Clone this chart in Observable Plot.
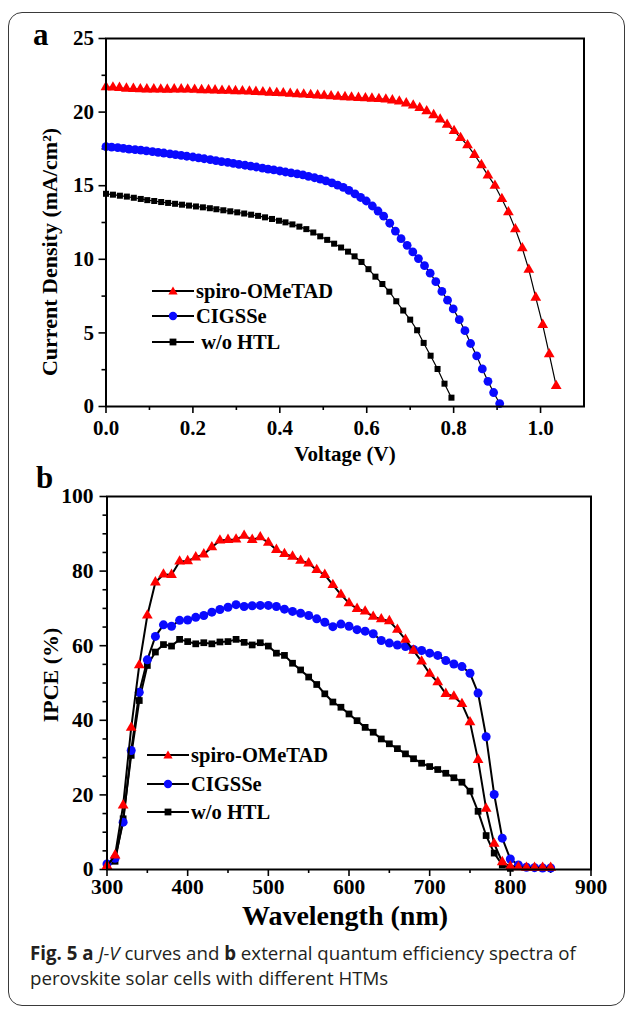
<!DOCTYPE html>
<html><head><meta charset="utf-8">
<script src="https://cdn.jsdelivr.net/npm/d3@7"></script>
<script src="https://cdn.jsdelivr.net/npm/@observablehq/plot@0.6"></script>
<style>
html,body{margin:0;padding:0;background:#fff;}
#fig{position:relative;width:630px;height:1012px;overflow:hidden;background:#fff;}
#border{position:absolute;left:8px;top:12px;width:617px;height:994px;border:1.5px solid #3a3a3a;border-radius:14px;box-sizing:border-box;}
.panel{position:absolute;left:0;}
.plab{position:absolute;font-family:"Liberation Serif",serif;font-weight:bold;font-size:31px;line-height:1;}
.ylab{position:absolute;font-family:"Liberation Serif",serif;font-weight:bold;font-size:22px;line-height:1;white-space:nowrap;transform:translate(-50%,-50%) rotate(-90deg);}
.leg{position:absolute;display:flex;align-items:center;height:24px;font-family:"Liberation Serif",serif;font-weight:bold;font-size:20.5px;color:#000;white-space:pre;}
.leg svg{display:block;margin-right:2px;}
#caption{position:absolute;left:30px;top:940px;width:595px;font-family:"Open Sans","Noto Sans",sans-serif;font-size:18.7px;line-height:25px;color:#231f20;white-space:nowrap;}
</style></head>
<body><div id="fig"><div id="border"></div></div>
<script>
// ---------- Panel a : J-V data ----------
const spiroV = [0.000,0.016,0.031,0.047,0.063,0.079,0.094,0.110,0.126,0.141,
 0.157,0.173,0.188,0.204,0.220,0.236,0.251,0.267,0.283,0.298,
 0.314,0.330,0.345,0.361,0.377,0.393,0.408,0.424,0.440,0.455,
 0.471,0.487,0.502,0.518,0.534,0.550,0.565,0.581,0.597,0.612,
 0.628,0.644,0.659,0.675,0.691,0.707,0.722,0.738,0.754,0.769,
 0.785,0.801,0.816,0.832,0.848,0.864,0.879,0.895,0.911,0.926,
 0.942,0.958,0.973,0.989,1.005,1.020,1.036];
const spiroJ = [21.70,21.68,21.65,21.60,21.58,21.56,21.55,21.55,21.54,21.53,
 21.55,21.55,21.54,21.52,21.50,21.50,21.48,21.46,21.45,21.43,
 21.42,21.40,21.38,21.35,21.33,21.30,21.28,21.25,21.22,21.20,
 21.17,21.14,21.11,21.08,21.05,21.02,21.00,20.97,20.94,20.92,
 20.90,20.86,20.80,20.72,20.60,20.45,20.28,20.06,19.80,19.50,
 19.15,18.72,18.25,17.75,17.10,16.40,15.70,15.00,14.10,13.20,
 12.05,10.75,9.30,7.40,5.55,3.55,1.40];
const cigsV = [0.000,0.013,0.027,0.040,0.053,0.067,0.080,0.093,0.107,0.120,
 0.133,0.147,0.160,0.173,0.186,0.200,0.213,0.226,0.240,0.253,
 0.266,0.280,0.293,0.306,0.320,0.333,0.346,0.360,0.373,0.386,
 0.400,0.413,0.426,0.440,0.453,0.466,0.480,0.493,0.506,0.520,
 0.533,0.546,0.559,0.573,0.586,0.599,0.613,0.626,0.639,0.653,
 0.666,0.679,0.693,0.706,0.719,0.733,0.746,0.759,0.773,0.786,
 0.799,0.813,0.826,0.839,0.853,0.866,0.879,0.892,0.906];
const cigsJ = [17.66,17.62,17.58,17.53,17.49,17.45,17.41,17.37,17.32,17.27,
 17.22,17.16,17.11,17.06,17.00,16.95,16.89,16.83,16.77,16.71,
 16.64,16.58,16.51,16.45,16.39,16.33,16.27,16.20,16.13,16.07,
 16.00,15.93,15.87,15.80,15.73,15.64,15.54,15.45,15.33,15.19,
 15.04,14.89,14.68,14.44,14.20,13.96,13.62,13.28,12.93,12.45,
 11.92,11.40,10.95,10.50,10.05,9.57,9.06,8.48,7.82,7.22,
 6.63,5.90,5.15,4.28,3.44,2.55,1.71,0.95,0.20];
const htlV = [0.000,0.016,0.032,0.048,0.064,0.080,0.095,0.111,0.127,0.143,
 0.159,0.175,0.191,0.207,0.223,0.239,0.254,0.270,0.286,0.302,
 0.318,0.334,0.350,0.366,0.382,0.398,0.413,0.429,0.445,0.461,
 0.477,0.493,0.509,0.525,0.541,0.557,0.572,0.588,0.604,0.620,
 0.636,0.652,0.668,0.684,0.700,0.716,0.731,0.747,0.763,0.779,
 0.795];
const htlJ = [14.45,14.39,14.32,14.26,14.18,14.10,14.02,13.96,13.89,13.83,
 13.77,13.71,13.65,13.59,13.53,13.47,13.40,13.33,13.26,13.19,
 13.11,13.03,12.95,12.85,12.74,12.62,12.51,12.37,12.22,12.05,
 11.82,11.56,11.32,11.06,10.80,10.52,10.20,9.82,9.33,8.82,
 8.32,7.80,7.15,6.52,5.90,5.18,4.32,3.45,2.55,1.55,
 0.60];

// ---------- Panel b : IPCE data ----------
const wavelengths = [300,310,320,330,340,350,360,370,380,390,
 400,410,420,430,440,450,460,470,480,490,
 500,510,520,530,540,550,560,570,580,590,
 600,610,620,630,640,650,660,670,680,690,
 700,710,720,730,740,750,760,770,780,790,
 800,810,820,830,840,850];
const spiroIPCE = [1.0,3.8,17.2,38.0,54.8,68.1,77.0,79.1,79.0,82.6,
 82.7,83.7,84.5,86.4,88.2,88.4,88.5,89.5,88.4,89.1,
 87.6,85.7,84.6,83.9,82.8,82.1,80.3,79.0,76.3,73.7,
 71.4,69.9,69.2,67.8,67.1,66.6,64.3,61.6,58.7,55.8,
 52.5,50.2,47.1,46.4,44.4,39.5,29.4,16.3,6.9,2.0,
 0.8,0.6,0.5,0.5,0.5,0.5];
const cigsIPCE = [1.5,3.0,12.7,31.9,47.5,56.2,62.5,65.6,65.2,66.8,
 66.9,67.6,68.1,69.0,69.7,70.3,71.0,70.5,70.7,70.8,
 70.8,70.5,69.8,69.2,68.7,68.1,67.2,66.3,65.1,65.8,
 65.2,64.3,63.9,63.2,61.4,60.7,60.2,59.8,59.0,58.7,
 58.0,57.4,56.0,55.1,54.4,52.6,47.3,35.6,20.1,8.4,
 2.8,1.2,0.6,0.5,0.4,0.4];
const htlIPCE = [0.8,2.2,13.6,30.6,45.3,54.7,58.3,60.3,59.9,61.7,
 61.1,60.5,60.8,60.5,61.0,61.1,61.7,60.9,60.2,60.8,
 59.9,58.0,57.4,55.3,53.5,51.6,49.6,47.1,44.9,43.5,
 41.7,39.9,38.1,36.8,35.0,33.7,32.4,31.0,29.7,28.5,
 27.6,26.8,25.8,24.6,23.4,21.0,15.6,9.1,4.4,1.2,
 0.3];

const seriesNames = ["spiro-OMeTAD", "CIGSSe", "w/o HTL"];
const seriesColors = ["#ff0000", "#0a0aff", "#000000"];
const seriesSymbols = ["triangle", "circle", "square"];

// ticks
const jvXTicks = [0, 0.2, 0.4, 0.6, 0.8, 1.0];
const jvXMinor = [0.1, 0.3, 0.5, 0.7, 0.9];
const jvYTicks = [0, 5, 10, 15, 20, 25];
const jvYMinor = [2.5, 7.5, 12.5, 17.5, 22.5];
const eqeXTicks = [300, 400, 500, 600, 700, 800, 900];
const eqeXMinor = [350, 450, 550, 650, 750, 850];
const eqeYTicks = [0, 20, 40, 60, 80, 100];
const eqeYMinor = [5, 10, 15, 25, 30, 35, 45, 50, 55, 65, 70, 75, 85, 90, 95];

const zip = (xs, ys) => xs.map((x, i) => ({x, y: ys[i]}));
const jvSeries = [zip(spiroV, spiroJ), zip(cigsV, cigsJ), zip(htlV, htlJ)];
const eqeSeries = [zip(wavelengths, spiroIPCE), zip(wavelengths, cigsIPCE), zip(wavelengths.slice(0, htlIPCE.length), htlIPCE)];

const serif = '"Liberation Serif", "Times New Roman", serif';

function seriesMarks(series, rs, lineW) {
  const marks = [];
  for (const i of [2, 1, 0]) {
    marks.push(Plot.line(series[i], {x: "x", y: "y", stroke: "#000", strokeWidth: lineW}));
    marks.push(Plot.dot(series[i], {x: "x", y: "y", symbol: seriesSymbols[i], r: rs[i], fill: seriesColors[i], stroke: "none"}));
  }
  return marks;
}

const fig = document.getElementById("fig");

const plotA = Plot.plot({
  width: 630, height: 470,
  marginLeft: 105.5, marginRight: 46.5, marginTop: 38, marginBottom: 64,
  style: {fontFamily: serif, fontWeight: "bold", fontSize: "21px", color: "#000", background: "transparent", overflow: "visible"},
  x: {domain: [0, 1.1]},
  y: {domain: [0, 25]},
  marks: [
    Plot.axisX({ticks: jvXTicks, tickFormat: d3.format(".1f"), tickSize: 7, tickPadding: 7, strokeWidth: 1.6, label: null}),
    Plot.axisX({ticks: jvXMinor, tickSize: 4, strokeWidth: 1.6, text: null, label: null}),
    Plot.axisY({ticks: jvYTicks, tickSize: 7, tickPadding: 5, strokeWidth: 1.6, label: null}),
    Plot.axisY({ticks: jvYMinor, tickSize: 4, strokeWidth: 1.6, text: null, label: null}),
    ...seriesMarks(jvSeries, [4.0, 4.4, 3.4], 1.2),
    Plot.frame({stroke: "#000", strokeWidth: 2}),
    Plot.text(["Voltage (V)"], {text: d => d, frameAnchor: "bottom", dy: 54, fontSize: 21})
  ]
});
plotA.classList.add("panel");
plotA.style.top = "0px";
fig.appendChild(plotA);

const plotB = Plot.plot({
  width: 630, height: 470,
  marginLeft: 106.5, marginRight: 39.5, marginTop: 26, marginBottom: 71,
  style: {fontFamily: serif, fontWeight: "bold", fontSize: "21.5px", color: "#000", background: "transparent", overflow: "visible"},
  x: {domain: [300, 900]},
  y: {domain: [0, 100]},
  marks: [
    Plot.axisX({ticks: eqeXTicks, tickSize: 7, tickPadding: 2, strokeWidth: 1.6, label: null}),
    Plot.axisX({ticks: eqeXMinor, tickSize: 4, strokeWidth: 1.6, text: null, label: null}),
    Plot.axisY({ticks: eqeYTicks, tickSize: 7, tickPadding: 6.5, strokeWidth: 1.6, label: null}),
    Plot.axisY({ticks: eqeYMinor, tickSize: 4, strokeWidth: 1.6, text: null, label: null}),
    ...seriesMarks(eqeSeries, [4.0, 4.5, 3.8], 2),
    Plot.frame({stroke: "#000", strokeWidth: 2}),
    Plot.text(["Wavelength (nm)"], {text: d => d, frameAnchor: "bottom", dy: 55, fontSize: 28, dx: -4})
  ]
});
plotB.classList.add("panel");
plotB.style.top = "470px";
fig.appendChild(plotB);

// rotated y-axis titles
for (const [t, cx, cy] of [["Current Density (mA/cm²)", 50, 252], ["IPCE (%)", 51, 675]]) {
  const d = document.createElement("div");
  d.className = "ylab"; d.textContent = t;
  d.style.left = cx + "px"; d.style.top = cy + "px";
  fig.appendChild(d);
}

// panel letters
for (const [t, l, tp] of [["a", 33, 19], ["b", 36, 462]]) {
  const d = document.createElement("div");
  d.className = "plab"; d.textContent = t;
  d.style.left = l + "px"; d.style.top = tp + "px";
  fig.appendChild(d);
}

// legends
function swatch(i) {
  const c = seriesColors[i];
  let m;
  if (seriesSymbols[i] === "triangle") m = `<path d="M21,3.5 L25.6,11.5 L16.4,11.5 Z" fill="${c}"/>`;
  else if (seriesSymbols[i] === "circle") m = `<circle cx="21" cy="8" r="4.2" fill="${c}"/>`;
  else m = `<rect x="17.6" y="4.6" width="6.8" height="6.8" fill="${c}"/>`;
  return `<svg width="42" height="16" viewBox="0 0 42 16"><line x1="0" y1="8" x2="42" y2="8" stroke="#000" stroke-width="2"/>${m}</svg>`;
}
function legend(left, centers, labels) {
  centers.forEach((cy, i) => {
    const d = document.createElement("div");
    d.className = "leg";
    d.style.left = left + "px"; d.style.top = (cy - 12) + "px";
    d.innerHTML = swatch(i) + `<span>${labels[i]}</span>`;
    fig.appendChild(d);
  });
}
legend(152, [291, 316, 342], [seriesNames[0], seriesNames[1], " " + seriesNames[2]]);
legend(147, [755, 784, 812], seriesNames);

// caption
const cap = document.createElement("div");
cap.id = "caption";
cap.innerHTML = '<b>Fig. 5</b> <b>a</b> <i>J-V</i> curves and <b>b</b> external quantum efficiency spectra of<br>perovskite solar cells with different HTMs';
fig.appendChild(cap);
</script>
</body></html>
